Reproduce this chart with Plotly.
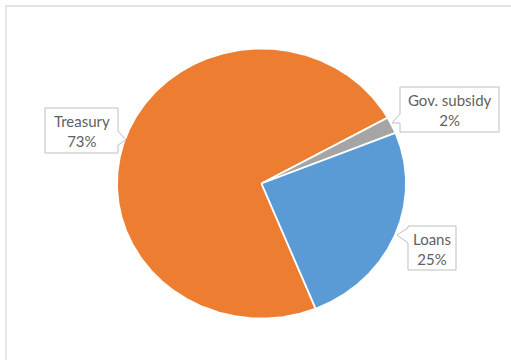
import numpy as np
import plotly.graph_objects as go

# Funding sources (percent of total)
labels = ["Treasury", "Gov. subsidy", "Loans"]
values = [73, 2, 25]
colors = ["#ED7D31", "#A5A5A5", "#5B9BD5"]
first_slice_angle = 158  # degrees, clockwise from 12 o'clock

W, H = 511, 360
CX, CY = 261.5, 183.5      # pie centre in pixels
RX, RY = 144.5, 135.0      # pie radii in pixels

fig = go.Figure()

# slices as filled wedges in unit-circle data space
total = float(sum(values))
start = first_slice_angle
for lab, val, col in zip(labels, values, colors):
    sweep = 360.0 * val / total
    th = np.radians(np.linspace(start, start + sweep, max(int(sweep * 2), 4)))
    xs = np.concatenate([[0.0], np.sin(th), [0.0]])
    ys = np.concatenate([[0.0], np.cos(th), [0.0]])
    fig.add_trace(go.Scatter(
        x=xs, y=ys, mode="lines", fill="toself", fillcolor=col,
        line=dict(color="white", width=1.8), name=lab,
        hoverinfo="name", showlegend=False,
    ))
    start += sweep


def px(x):
    return x / W


def py(y):
    return 1 - y / H


def callout(box, side, notch, tip):
    """Closed outline of a label box with a pointer on one side."""
    x0, y0, x1, y1 = box
    a, b = notch
    tx, ty = tip
    if side == "left":
        pts = [(x0, y0), (x1, y0), (x1, y1), (x0, y1), (x0, b), (tx, ty), (x0, a)]
    else:
        pts = [(x0, y0), (x1, y0), (x1, a), (tx, ty), (x1, b), (x1, y1), (x0, y1)]
    d = "M " + " L ".join(f"{px(x):.5f},{py(y):.5f}" for x, y in pts) + " Z"
    return dict(type="path", path=d, xref="paper", yref="paper",
                line=dict(color="#BFBFBF", width=1), fillcolor="white", layer="above")


boxes = {
    "Treasury": ((45, 108, 118, 153), "right", (131, 145), (126, 140)),
    "Gov. subsidy": ((400, 87, 499, 132), "left", (114, 123), (392, 123)),
    "Loans": ((408, 226, 456, 270), "left", (228, 243), (397, 235)),
}

shapes = [
    # chart area frame
    dict(type="rect", xref="paper", yref="paper",
         x0=px(6), y0=py(370), x1=px(525), y1=py(6),
         line=dict(color="#D9D9D9", width=1.3), fillcolor="rgba(0,0,0,0)"),
]
annotations = []
for lab, val in zip(labels, values):
    box, side, notch, tip = boxes[lab]
    shapes.append(callout(box, side, notch, tip))
    annotations.append(dict(
        x=px((box[0] + box[2]) / 2), y=py((box[1] + box[3]) / 2 + 0.5),
        xref="paper", yref="paper", xanchor="center", yanchor="middle",
        text=f"{lab}<br>{val}%", showarrow=False, align="center",
        font=dict(family="Lato, 'Open Sans', sans-serif", size=15, color="#5F5F5F"),
    ))

fig.update_layout(
    width=W, height=H,
    margin=dict(l=0, r=0, t=0, b=0),
    paper_bgcolor="white", plot_bgcolor="white",
    xaxis=dict(range=[-CX / RX, (W - CX) / RX], visible=False, fixedrange=True),
    yaxis=dict(range=[-(H - CY) / RY, CY / RY], visible=False, fixedrange=True),
    shapes=shapes, annotations=annotations,
    showlegend=False,
)

fig.write_html("out.html")
